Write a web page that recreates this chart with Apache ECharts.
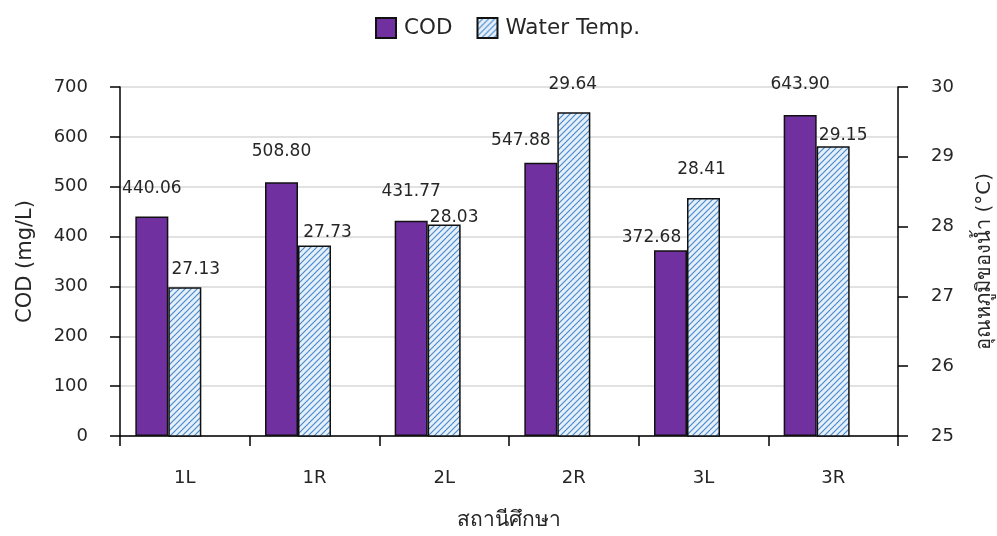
<!DOCTYPE html>
<html>
<head>
<meta charset="utf-8">
<script src="https://cdn.jsdelivr.net/npm/echarts@6/dist/echarts.min.js"></script>
<style>
  html, body { margin: 0; padding: 0; background: #ffffff; }
  #chart { width: 997px; height: 536px; }
</style>
</head>
<body>
<div id="chart"></div>
<script>
// Sampling stations
const stations = ['1L', '1R', '2L', '2R', '3L', '3R'];
// Chemical oxygen demand, mg/L
const codValues = [440.06, 508.80, 431.77, 547.88, 372.68, 643.90];
// Water temperature, °C
const tempValues = [27.13, 27.73, 28.03, 29.64, 28.41, 29.15];

// Hand-placed value label offsets [dx, dy] from each bar's top centre
const codLabelShift = [[0, -28], [0, -31], [0, -29], [-20, -22], [-19, -13], [0, -30]];
const tempLabelShift = [[11, -18], [13, -13], [10, -7], [-1, -28], [-2, -28], [10, -11]];

const FONT = "'DejaVu Sans', 'Noto Sans', sans-serif";
const TEXT = '#262626';

// Light blue diagonal hatch for the temperature bars
function hatchPattern() {
  const s = 6;
  const c = document.createElement('canvas');
  c.width = s; c.height = s;
  const g = c.getContext('2d');
  g.fillStyle = '#e6f0fa';
  g.fillRect(0, 0, s, s);
  g.strokeStyle = '#4a8acb';
  g.lineWidth = 1.2;
  g.beginPath();
  g.moveTo(0, s); g.lineTo(s, 0);
  g.moveTo(-s / 2, s / 2); g.lineTo(s / 2, -s / 2);
  g.moveTo(s / 2, s * 1.5); g.lineTo(s * 1.5, s / 2);
  g.stroke();
  return c;
}

function labelled(values, shifts, fmt) {
  return values.map((v, i) => ({
    value: v,
    label: { offset: shifts[i], formatter: fmt(v) }
  }));
}

const chart = echarts.init(document.getElementById('chart'), null, { renderer: 'canvas' });

const labelBase = {
  show: true,
  position: 'top',
  distance: 0,
  verticalAlign: 'middle',
  align: 'center',
  fontFamily: FONT,
  fontSize: 17,
  color: TEXT
};

chart.setOption({
  animation: false,
  backgroundColor: '#ffffff',
  textStyle: { fontFamily: FONT, color: TEXT },
  legend: {
    data: ['COD', 'Water Temp.'],
    top: 12,
    left: 370,
    icon: 'rect',
    itemWidth: 20,
    itemHeight: 20,
    itemGap: 24,
    textStyle: { fontFamily: FONT, fontSize: 21.5, color: TEXT, padding: [0, 0, 0, 3] }
  },
  grid: { left: 120, right: 99, top: 87, bottom: 100, containLabel: false, outerBoundsMode: 'none' },
  xAxis: {
    type: 'category',
    data: stations,
    name: 'สถานีศึกษา',
    nameLocation: 'middle',
    nameGap: 74,
    nameTextStyle: { fontFamily: FONT, fontSize: 21, color: TEXT },
    axisLine: { lineStyle: { color: '#000000', width: 1.5 } },
    axisTick: { show: true, length: 10, interval: 0, lineStyle: { color: '#000000', width: 1.5 } },
    axisLabel: { margin: 33, fontFamily: FONT, fontSize: 18, color: TEXT },
    splitLine: { show: false }
  },
  yAxis: [
    {
      type: 'value',
      min: 0,
      max: 700,
      interval: 100,
      name: 'COD (mg/L)',
      nameLocation: 'middle',
      nameGap: 84,
      nameTextStyle: { fontFamily: FONT, fontSize: 21, color: TEXT },
      axisLine: { show: true, lineStyle: { color: '#000000', width: 1.5 } },
      axisTick: { show: true, length: 10, lineStyle: { color: '#000000', width: 1.5 } },
      axisLabel: { margin: 32, fontFamily: FONT, fontSize: 18, color: TEXT },
      splitLine: { show: true, lineStyle: { color: '#d9d9d9', width: 1.5 } }
    },
    {
      type: 'value',
      position: 'right',
      min: 25,
      max: 30,
      interval: 1,
      name: 'อุณหภูมิของน้ำ (°C)',
      nameLocation: 'middle',
      nameGap: 77,
      nameTextStyle: { fontFamily: FONT, fontSize: 20, color: TEXT },
      axisLine: { show: true, lineStyle: { color: '#000000', width: 1.5 } },
      axisTick: { show: true, length: 10, lineStyle: { color: '#000000', width: 1.5 } },
      axisLabel: { margin: 33, fontFamily: FONT, fontSize: 18, color: TEXT },
      splitLine: { show: false }
    }
  ],
  series: [
    {
      name: 'COD',
      type: 'bar',
      yAxisIndex: 0,
      barWidth: 33,
      barGap: '0%',
      itemStyle: { color: '#7030a0', borderColor: '#111111', borderWidth: 1.5 },
      label: labelBase,
      data: labelled(codValues, codLabelShift, v => v.toFixed(2))
    },
    {
      name: 'Water Temp.',
      type: 'bar',
      yAxisIndex: 1,
      barWidth: 33,
      barGap: '0%',
      itemStyle: {
        color: { image: hatchPattern(), repeat: 'repeat' },
        borderColor: '#111111',
        borderWidth: 1.5
      },
      label: labelBase,
      data: labelled(tempValues, tempLabelShift, v => v.toFixed(2))
    },
    {
      // empty slot to the right of each pair, keeps the pair left of centre
      name: 'spacer',
      type: 'bar',
      yAxisIndex: 0,
      barWidth: 33,
      barGap: '0%',
      silent: true,
      data: stations.map(() => null)
    }
  ]
});
</script>
</body>
</html>
